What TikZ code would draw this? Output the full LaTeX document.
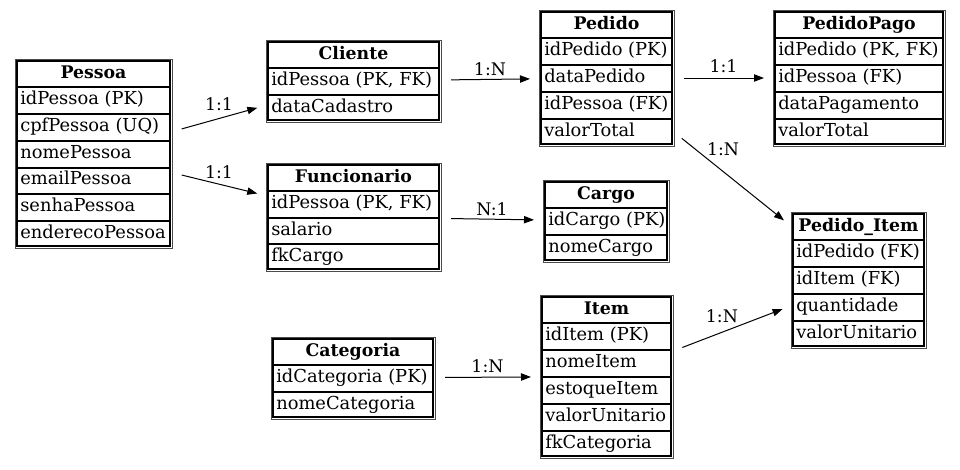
\documentclass[tikz,border=0pt]{standalone}
\usepackage{fontspec}
\setmainfont{DejaVu Serif}
\newfontfamily\erserif{DejaVu Serif}
\usetikzlibrary{arrows.meta,fit}
\tikzset{
  tblouter/.style={draw=black!70, line width=0.75pt, inner sep=0pt, outer sep=0pt},
  tblinner/.style={draw=black, line width=0.9pt},
  rowdiv/.style={draw=black, line width=1.5pt},
  hdrtext/.style={font=\erserif\fontsize{13pt}{15pt}\selectfont\bfseries, inner sep=0pt, text height=12pt, text depth=3pt},
  celltext/.style={font=\erserif\fontsize{13.4pt}{15pt}\selectfont\mdseries, inner sep=0pt, anchor=west, text height=12pt, text depth=3pt},
  edge/.style={draw=black, line width=0.75pt, -{Triangle[length=7.5pt,width=5.5pt]}, shorten <=7.5pt, shorten >=6.75pt},
  edgelabel/.style={font=\erserif\fontsize{13pt}{15pt}\selectfont, inner sep=0pt},
}
\newcommand{\ertable}[8]{%
  \node[tblouter, fit={(#2,#3) (#4,#5)}] (#1) {};
  \draw[tblinner] (#2+2,#3+2) rectangle (#4-2,#5-2);
  \pgfmathsetmacro{\erRowH}{(#5-#3-28)/#7}
  \node[hdrtext] (#1-h) at ({(#2+#4)/2},#3+13) {#6};
  \foreach \erRow [count=\erI] in {#8} {
    \draw[rowdiv] (#2+2,{#3+28+(\erI-1)*\erRowH}) -- (#4-2,{#3+28+(\erI-1)*\erRowH});
    \node[celltext] (#1-\erI) at (#2+5,{#3+26+(\erI-0.5)*\erRowH}) {\erRow};
  }
}
\begin{document}
\begin{tikzpicture}[x=0.75pt, y=-0.75pt]
\useasboundingbox (0,0) rectangle (960,469);
\ertable{pessoa}{15}{59}{172}{248}{Pessoa}{6}{{idPessoa (PK)},{cpfPessoa (UQ)},nomePessoa,emailPessoa,senhaPessoa,enderecoPessoa}
\ertable{cliente}{266}{40}{441}{122}{Cliente}{2}{{idPessoa (PK, FK)},dataCadastro}
\ertable{funcionario}{266}{163}{441}{271}{Funcionario}{3}{{idPessoa (PK, FK)},salario,fkCargo}
\ertable{pedido}{539}{10}{674}{146}{Pedido}{4}{{idPedido (PK)},dataPedido,{idPessoa (FK)},valorTotal}
\ertable{pedidopago}{773}{10}{945}{146}{PedidoPago}{4}{{idPedido (PK, FK)},{idPessoa (FK)},dataPagamento,valorTotal}
\ertable{cargo}{543}{180}{669}{262}{Cargo}{2}{{idCargo (PK)},nomeCargo}
\ertable{pedidoitem}{791}{212}{926}{348}{Pedido\_Item}{4}{{idPedido (FK)},{idItem (FK)},quantidade,valorUnitario}
\ertable{categoria}{271}{337}{435}{419}{Categoria}{2}{{idCategoria (PK)},nomeCategoria}
\ertable{item}{540}{295}{673}{458}{Item}{5}{{idItem (PK)},nomeItem,estoqueItem,valorUnitario,fkCategoria}
\draw[edge] (pessoa) -- (cliente) node[edgelabel, midway, yshift=11pt] {1:1};
\draw[edge] (pessoa) -- (funcionario) node[edgelabel, midway, yshift=9pt] {1:1};
\draw[edge] (cliente) -- (pedido) node[edgelabel, midway, yshift=7.5pt] {1:N};
\draw[edge] (funcionario) -- (cargo) node[edgelabel, midway, yshift=7.5pt] {N:1};
\draw[edge] (pedido) -- (pedidopago) node[edgelabel, midway, yshift=9pt] {1:1};
\draw[edge] (pedido) -- (pedidoitem) node[edgelabel, pos=0.42, yshift=17pt] {1:N};
\draw[edge] (categoria) -- (item) node[edgelabel, midway, yshift=8.6pt] {1:N};
\draw[edge] (item) -- (pedidoitem) node[edgelabel, pos=0.415, yshift=12pt] {1:N};
\end{tikzpicture}
\end{document}
